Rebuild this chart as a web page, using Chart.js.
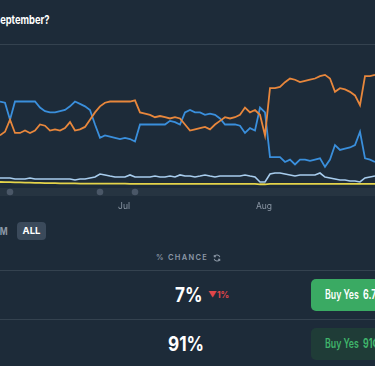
<!DOCTYPE html>
<html>
<head>
<meta charset="utf-8">
<script src="https://cdn.jsdelivr.net/npm/chart.js@4/dist/chart.umd.min.js"></script>
<style>
  html, body { margin: 0; padding: 0; }
  body {
    width: 375px; height: 366px; overflow: hidden; position: relative;
    background: #1d2b39; font-family: Inter, "Open Sans", sans-serif; color: #fff;
  }
  .abs { position: absolute; white-space: nowrap; transform-origin: left center; }
  #title { left: -6.5px; top: 12px; font-size: 12px; font-weight: 700; transform: scaleX(0.78); }
  .rule { position: absolute; left: 0; width: 375px; height: 1px; background: #34424f; }
  #chartBox { position: absolute; left: 0; top: 64px; width: 375px; height: 150px; }
  #range1m { left: -4px; top: 225px; font-size: 10px; font-weight: 700; color: #8c98a6; transform: scaleX(0.85); }
  #rangeAll {
    left: 17px; top: 222px; width: 29px; height: 18px; border-radius: 4px;
    background: #3b4a5b; font-size: 9.5px; font-weight: 700; color: #fff;
    text-align: center; line-height: 18px;
  }
  #chanceHead {
    left: 156px; top: 253px; font-size: 7.5px; letter-spacing: 1.3px; color: #8c98a6;
    font-weight: 600; display: flex; align-items: center;
  }
  #chanceHead svg { margin-left: 5px; }
  .pct { font-size: 20px; font-weight: 700; transform: scaleX(0.86); }
  #delta { left: 208px; top: 290px; font-size: 8.5px; font-weight: 700; color: #e0464a; }
  .buy {
    position: absolute; left: 311px; width: 110px; height: 32px; border-radius: 5px;
    box-sizing: border-box; overflow: hidden;
  }
  .buy span {
    position: absolute; left: 14px; top: 0; line-height: 32px; font-size: 12.5px; font-weight: 600;
    white-space: nowrap; transform: scaleX(0.7); transform-origin: left center;
  }
  .buy b { font-weight: 700; margin-left: 6px; }
  #buy1 { top: 279px; background: #3aaa63; color: #fff; }
  #buy2 { top: 328px; background: #1f3c37; color: #3fb56b; }
</style>
</head>
<body>
<div id="title" class="abs">September?</div>
<div class="rule" style="top:44px"></div>
<div id="chartBox"><canvas id="priceChart"></canvas></div>
<div id="range1m" class="abs">1M</div>
<div id="rangeAll" class="abs">ALL</div>
<div id="chanceHead" class="abs">% CHANCE
  <svg width="8" height="8" viewBox="0 0 10 10" fill="none" stroke="#8c98a6" stroke-width="1.3">
    <path d="M8.5 4A3.6 3.6 0 0 0 1.8 3.2M1.5 6a3.6 3.6 0 0 0 6.7 0.8"/>
    <path d="M1.6 1.2v2.2h2.2M8.4 8.8V6.6H6.2"/>
  </svg>
</div>
<div class="rule" style="top:270px"></div>
<div class="abs pct" style="left:175px; top:283px">7%</div>
<div id="delta" class="abs">▼1%</div>
<div id="buy1" class="buy"><span>Buy Yes<b>6.7¢</b></span></div>
<div class="rule" style="top:319px"></div>
<div class="abs pct" style="left:168px; top:332px">91%</div>
<div id="buy2" class="buy"><span>Buy Yes<b>91¢</b></span></div>

<script>
/* Chart data, % chance, one point every ~5px of the timeline */
const orangeValues = [41, 44, 54, 43, 43, 45, 43, 45, 50, 49, 45, 46, 45, 47, 52, 45, 46, 48, 54, 60,
    65, 68, 69, 69, 69, 69, 69, 70, 60, 59, 58, 56, 57, 56, 55, 56, 55, 50, 45, 46,
    47, 48, 46, 50, 53, 56, 55, 56, 58, 64, 60, 62, 58, 41, 80, 80, 81, 85, 88, 87,
    85, 86, 87, 88, 90, 91, 88, 77, 80, 79, 77, 74, 66, 90, 90, 91];
const blueValues = [69, 68, 54, 69, 69, 69, 69, 69, 64, 61, 60, 60, 61, 62, 65, 69, 67, 65, 62, 50,
    39, 41, 40, 39, 38, 39, 38, 36, 50, 50, 50, 50, 50, 50, 53, 52, 50, 60, 62, 60,
    60, 58, 59, 58, 55, 50, 50, 50, 49, 43, 47, 45, 64, 60, 23, 23, 23, 19, 21, 17,
    21, 21, 20, 21, 22, 15, 21, 33, 29, 30, 31, 33, 44, 22, 21, 19];
const lightBlueValues = [5.8, 5.8, 5.8, 5.0, 5.0, 5.0, 5.8, 5.0, 5.0, 5.0, 5.0, 5.0, 5.0, 5.0, 5.0, 4.1, 5.0, 5.0, 5.8, 6.6,
    9.1, 8.3, 7.4, 6.6, 6.6, 6.6, 8.3, 6.6, 6.6, 6.6, 6.6, 7.4, 6.6, 6.6, 7.4, 6.6, 8.3, 7.4, 7.4, 6.6,
    7.4, 8.3, 7.4, 6.6, 7.4, 7.4, 7.4, 7.4, 7.4, 8.3, 7.4, 6.6, 2.5, 2.5, 9.1, 9.9, 9.9, 9.1, 8.3, 7.4,
    8.3, 8.3, 8.3, 8.3, 9.9, 6.6, 5.8, 5.0, 4.1, 4.1, 3.3, 3.3, 2.5, 5.8, 6.6, 7.4];
const yellowValues = [2.5, 2.4, 2.3, 2.2, 2.1, 2.0, 1.9, 1.8, 1.7, 1.6, 1.5, 1.5, 1.4, 1.4, 1.3, 1.3, 1.2, 1.2, 1.2, 1.2,
    1.2, 1.1, 1.1, 1.1, 1.1, 1.1, 1.0, 1.0, 1.0, 1.0, 1.0, 1.0, 1.0, 0.9, 0.9, 0.9, 0.9, 0.9, 0.9, 0.9,
    0.9, 0.9, 0.9, 0.9, 0.9, 0.9, 0.9, 0.9, 0.9, 0.9, 0.9, 0.9, 0.6, 0.6, 0.9, 0.9, 0.9, 0.9, 0.9, 0.9,
    0.9, 0.9, 0.9, 0.9, 0.9, 0.9, 0.9, 0.9, 0.9, 0.9, 0.9, 0.9, 0.9, 0.9, 0.9, 0.9];
const pointLabels = orangeValues.map((v, i) => i);

/* Month ticks and range-slider handles (by point index) */
const monthLabels = ['Jul', 'Aug'];
const monthIndex = [25, 53];
const handleIndex = [2, 20, 27];

/* Draw the slider track, handles and month labels below the plot */
const timelinePlugin = {
    id: 'timeline',
    afterDraw(chart) {
        const ctx = chart.ctx;
        const x = chart.scales.x;
        const bottom = chart.chartArea.bottom;
        ctx.save();
        ctx.fillStyle = 'rgba(255,255,255,0.045)';
        ctx.fillRect(0, bottom + 3, chart.width, 8);
        ctx.fillStyle = '#4a5767';
        handleIndex.forEach(i => {
            ctx.beginPath();
            ctx.arc(x.getPixelForValue(i), bottom + 7, 3.3, 0, Math.PI * 2);
            ctx.fill();
        });
        ctx.fillStyle = '#8c98a6';
        ctx.font = '8.5px Inter, sans-serif';
        ctx.textAlign = 'center';
        ctx.textBaseline = 'middle';
        monthLabels.forEach((lbl, k) => {
            ctx.fillText(lbl, x.getPixelForValue(monthIndex[k]) - 1, bottom + 21);
        });
        ctx.restore();
    }
};

const line = (data, color, width) => ({
    data: data,
    borderColor: color,
    borderWidth: width,
    pointRadius: 0,
    tension: 0,
    clip: false
});

new Chart(document.getElementById('priceChart').getContext('2d'), {
    type: 'line',
    data: {
        labels: pointLabels,
        datasets: [
            line(yellowValues, '#e4d44a', 1.8),
            line(lightBlueValues, '#a8cdee', 1.6),
            line(orangeValues, '#e8873c', 1.8),
            line(blueValues, '#3a8fdc', 1.8)
        ]
    },
    options: {
        responsive: true,
        maintainAspectRatio: false,
        animation: false,
        layout: { padding: { left: 0, right: 0, top: 0, bottom: 29 } },
        plugins: { legend: { display: false }, tooltip: { enabled: false } },
        scales: {
            x: { display: false },
            y: { display: false, min: 0, max: 100 }
        }
    },
    plugins: [timelinePlugin]
});
</script>
</body>
</html>
